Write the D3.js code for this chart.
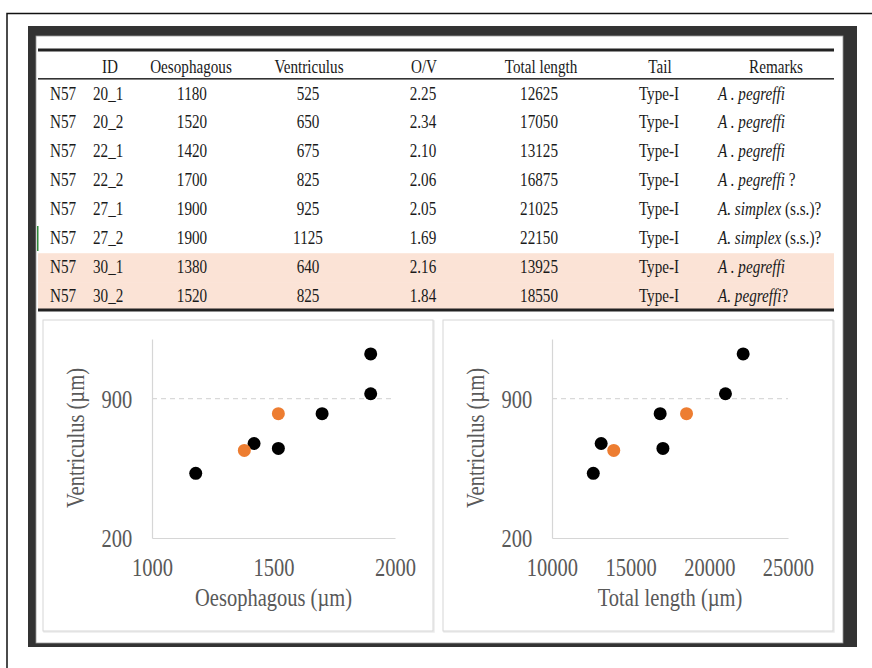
<!DOCTYPE html>
<html>
<head>
<meta charset="utf-8">
<script src="https://cdn.jsdelivr.net/npm/d3@7"></script>
<style>
html, body { margin: 0; padding: 0; background: #fff; }
svg { display: block; font-family: "Liberation Serif", "Times New Roman", serif; }
</style>
</head>
<body>
<svg width="872" height="668"></svg>
<script>
// table data
var site = "N57";
var ids = ["20_1", "20_2", "22_1", "22_2", "27_1", "27_2", "30_1", "30_2"];
var oesophagous = [1180, 1520, 1420, 1700, 1900, 1900, 1380, 1520];
var ventriculus = [525, 650, 675, 825, 925, 1125, 640, 825];
var ovRatio = ["2.25", "2.34", "2.10", "2.06", "2.05", "1.69", "2.16", "1.84"];
var totalLength = [12625, 17050, 13125, 16875, 21025, 22150, 13925, 18550];
var tail = ["Type-I", "Type-I", "Type-I", "Type-I", "Type-I", "Type-I", "Type-I", "Type-I"];
var species = ["A . pegreffi", "A . pegreffi", "A . pegreffi", "A . pegreffi", "A. simplex", "A. simplex", "A . pegreffi", "A. pegreffi"];
var speciesNote = ["", "", "", " ?", " (s.s.)?", " (s.s.)?", "", "?"];
var highlighted = [false, false, false, false, false, false, true, true];
var headers = ["ID", "Oesophagous", "Ventriculus", "O/V", "Total length", "Tail", "Remarks"];

// axis ticks
var ventTicks = [200, 900];
var oesTicks = [1000, 1500, 2000];
var lenTicks = [10000, 15000, 20000, 25000];

var svg = d3.select("svg");
var SQ = 0.82; // the picture is narrow: squeeze glyphs horizontally

// frames
svg.append("path").attr("d", "M7,668V13.5H872").attr("fill", "none")
  .attr("stroke", "#111").attr("stroke-width", 1.5);
svg.append("rect").attr("x", 28).attr("y", 26).attr("width", 829).attr("height", 621).attr("fill", "#333");
svg.append("rect").attr("x", 36).attr("y", 36).attr("width", 807).attr("height", 607)
  .attr("fill", "#fff").attr("stroke", "#9a9a9a").attr("stroke-width", 0.8);

// ---- table ----
var tbl = svg.append("g").attr("fill", "#1a1a1a").style("font-size", "18.5px");
var rowY = d3.scaleLinear().domain([0, ids.length - 1]).range([93.5, 295.5]);
var rowH = rowY(1) - rowY(0);

tbl.selectAll("rect.hl")
  .data(ids.map(function(d, i) { return i; }).filter(function(i) { return highlighted[i]; }))
  .enter().append("rect")
    .attr("class", "hl")
    .attr("x", 38).attr("width", 796)
    .attr("y", function(i) { return rowY(i) - rowH / 2 + 1; })
    .attr("height", rowH)
    .attr("fill", "#fbe3d6");

// rules
tbl.append("rect").attr("x", 38).attr("y", 48.5).attr("width", 796).attr("height", 3).attr("fill", "#222");
tbl.append("rect").attr("x", 38).attr("y", 78).attr("width", 796).attr("height", 1.6).attr("fill", "#333");
tbl.append("rect").attr("x", 38).attr("y", 308.5).attr("width", 796).attr("height", 3).attr("fill", "#222");
tbl.append("rect").attr("x", 37).attr("y", 226).attr("width", 1.5).attr("height", 25).attr("fill", "#2e8b3a");

function cell(x, y, anchor) {
  return tbl.append("text")
    .attr("transform", "translate(" + x + "," + (y + 6) + ") scale(" + SQ + ",1)")
    .attr("text-anchor", anchor);
}

var headX = [110, 191, 309, 424, 541, 660, 776];
headers.forEach(function(h, j) { cell(headX[j], 67, "middle").text(h); });

ids.forEach(function(id, i) {
  var y = rowY(i);
  cell(50, y, "start").text(site);
  cell(93, y, "start").text(id);
  cell(192, y, "middle").text(oesophagous[i]);
  cell(308, y, "middle").text(ventriculus[i]);
  cell(423, y, "middle").text(ovRatio[i]);
  cell(539, y, "middle").text(totalLength[i]);
  cell(659, y, "middle").text(tail[i]);
  var t = cell(718, y, "start");
  t.append("tspan").style("font-style", "italic").text(species[i]);
  if (speciesNote[i]) t.append("tspan").text(speciesNote[i]);
});

// ---- scatter panels ----
var y = d3.scaleLinear().domain([200, 1200]).range([538, 339]);

function panel(px, xVals, xDomain, xRange, xTicks, title) {
  var g = svg.append("g");
  g.append("rect").attr("x", px + 1).attr("y", 321).attr("width", 390).attr("height", 311)
    .attr("fill", "none").attr("stroke", "#ececec").attr("stroke-width", 1.5);
  g.append("rect").attr("x", px).attr("y", 320).attr("width", 390).attr("height", 311)
    .attr("fill", "#fff").attr("stroke", "#d6d6d6").attr("stroke-width", 1);

  var x = d3.scaleLinear().domain(xDomain).range(xRange);

  // dashed gridline at 900
  g.append("line")
    .attr("x1", xRange[0]).attr("x2", xRange[1])
    .attr("y1", y(900)).attr("y2", y(900))
    .attr("stroke", "#d0d0d0").attr("stroke-dasharray", "5,4");

  var xa = g.append("g").attr("transform", "translate(0," + y.range()[0] + ")")
    .call(d3.axisBottom(x).tickValues(xTicks).tickSize(0).tickSizeOuter(0).tickPadding(20).tickFormat(d3.format("d")));
  var ya = g.append("g").attr("transform", "translate(" + xRange[0] + ",0)")
    .call(d3.axisLeft(y).tickValues(ventTicks).tickSize(0).tickSizeOuter(0).tickPadding(24).tickFormat(d3.format("d")));
  [xa, ya].forEach(function(a) {
    a.select(".domain").attr("stroke", "#d6d6d6").attr("stroke-width", 1.2);
    a.selectAll("text").attr("fill", "#595959").style("font-size", "25px")
      .style("font-family", "'Liberation Serif','Times New Roman',serif")
      .attr("transform", "scale(" + SQ + ",1)");
  });
  xa.selectAll("text").attr("dy", "0.71em");
  ya.selectAll("text").attr("dy", "0.34em");

  g.append("text")
    .attr("transform", "translate(" + ((xRange[0] + xRange[1]) / 2) + ",606) scale(" + SQ + ",1)")
    .attr("text-anchor", "middle").attr("fill", "#595959").style("font-size", "25px")
    .text(title);
  g.append("text")
    .attr("transform", "translate(" + (px + 41) + ",438) rotate(-90) scale(" + SQ + ",1)")
    .attr("text-anchor", "middle").attr("fill", "#595959").style("font-size", "25px")
    .text("Ventriculus (µm)");

  g.selectAll("circle")
    .data(ids.map(function(d, i) { return i; }))
    .enter().append("circle")
      .attr("cx", function(i) { return x(xVals[i]); })
      .attr("cy", function(i) { return y(ventriculus[i]); })
      .attr("r", 6.5)
      .attr("fill", function(i) { return highlighted[i] ? "#ed7d31" : "#000"; });
}

panel(43, oesophagous, [1000, 2000], [152, 395], oesTicks, "Oesophagous (µm)");
panel(443, totalLength, [10000, 25000], [552, 788], lenTicks, "Total length (µm)");
</script>
</body>
</html>
